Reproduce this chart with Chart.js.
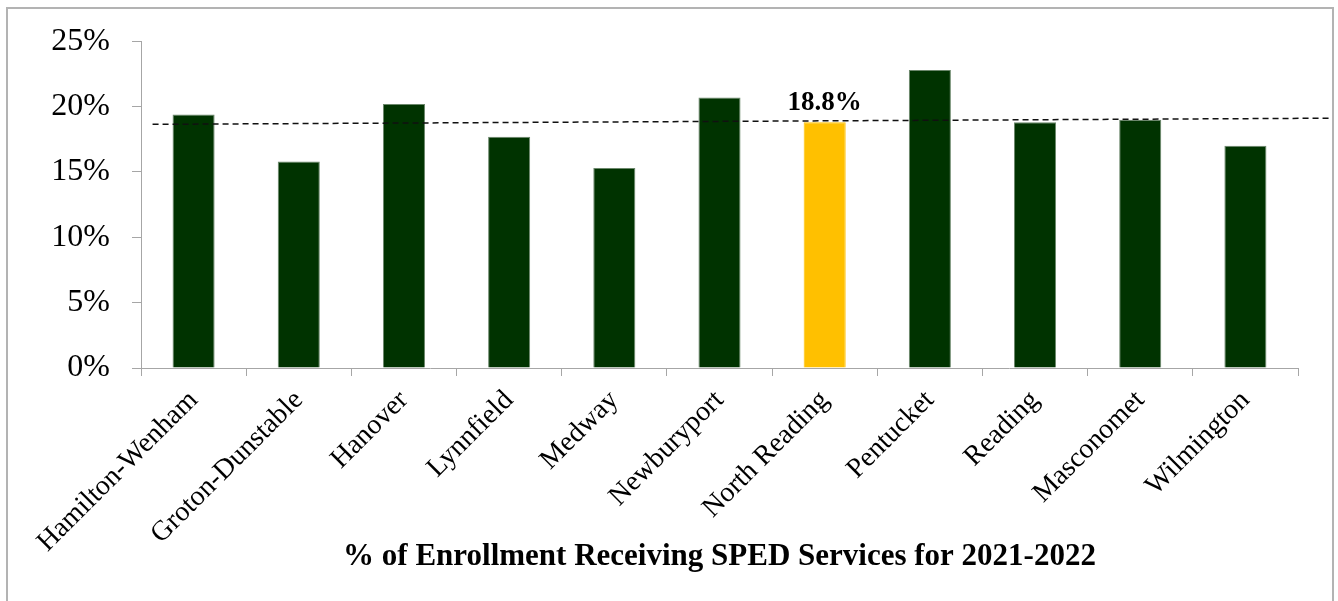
<!DOCTYPE html>
<html>
<head>
<meta charset="utf-8">
<script src="https://cdn.jsdelivr.net/npm/chart.js@4/dist/chart.umd.min.js"></script>
<style>
    body { margin: 0; background: #fff; }
    #wrap { position: relative; width: 1338px; height: 601px; }
    #frame {
        position: absolute; left: 6px; top: 7px; width: 1324px; height: 600px;
        border: 2px solid #b3b3b3; pointer-events: none;
    }
</style>
</head>
<body>
<div id="wrap">
    <canvas id="sped_chart" width="1338" height="601"></canvas>
    <div id="frame"></div>
</div>
<script>
var arrDistricts = ['Hamilton-Wenham', 'Groton-Dunstable', 'Hanover', 'Lynnfield', 'Medway',
    'Newburyport', 'North Reading', 'Pentucket', 'Reading', 'Masconomet', 'Wilmington'];
var arrSpedPct = [19.4, 15.8, 20.2, 17.7, 15.3, 20.7, 18.8, 22.8, 18.8, 19.0, 17.0];
var strHighlight = 'North Reading';
var arrYTicks = [0, 5, 10, 15, 20, 25];
// dashed trend line, ends (x in category slots)
var arrTrendX = [0.11, 11.32];
var arrTrendY = [18.64, 19.11];

var strFont = "'Liberation Serif', 'Times New Roman', serif";
var strGreen = '#003300';
var strYellow = '#ffc000';
var strAxis = '#a6a6a6';

var arrColors = arrDistricts.map(function (strName) {
    return strName === strHighlight ? strYellow : strGreen;
});
var arrBorders = arrDistricts.map(function (strName) {
    return strName === strHighlight ? strYellow : '#6b876b';
});

// value label above the highlighted bar
var highlightLabel = {
    id: 'highlightLabel',
    afterDatasetsDraw: function (chart) {
        const idx = arrDistricts.indexOf(strHighlight);
        const bar = chart.getDatasetMeta(1).data[idx];
        if (!bar) return;
        const ctx = chart.ctx;
        ctx.save();
        ctx.font = 'bold 27px ' + strFont;
        ctx.fillStyle = '#000';
        ctx.textAlign = 'center';
        ctx.textBaseline = 'bottom';
        ctx.fillText(arrSpedPct[idx].toFixed(1) + '%', bar.x, bar.y - 6);
        ctx.restore();
    }
};

var ctx = document.getElementById('sped_chart').getContext('2d');
new Chart(ctx, {
    type: 'bar',
    data: {
        labels: arrDistricts,
        datasets: [
            {
                type: 'line',
                xAxisID: 'xt',
                data: arrTrendX.map(function (x, i) { return { x: x, y: arrTrendY[i] }; }),
                borderColor: '#111',
                borderWidth: 1.5,
                borderDash: [6, 4],
                pointRadius: 0,
                clip: false,
                order: 0
            },
            {
                type: 'bar',
                data: arrSpedPct,
                backgroundColor: arrColors,
                borderColor: arrBorders,
                borderWidth: 1,
                grouped: false,
                barPercentage: 0.4,
                categoryPercentage: 1,
                order: 1
            }
        ]
    },
    options: {
        responsive: false,
        animation: false,
        layout: {
            padding: { left: 0, top: 38, right: 40, bottom: 0 }
        },
        plugins: {
            legend: { display: false },
            tooltip: { enabled: false }
        },
        scales: {
            x: {
                type: 'category',
                grid: {
                    drawOnChartArea: false,
                    color: strAxis,
                    tickLength: 8
                },
                border: { color: strAxis, width: 1 },
                ticks: {
                    color: '#000',
                    maxRotation: 45,
                    minRotation: 45,
                    padding: 8,
                    font: { family: strFont, size: 28 }
                },
                title: {
                    display: true,
                    text: '% of Enrollment Receiving SPED Services for 2021-2022',
                    color: '#000',
                    padding: { top: 0, bottom: 25 },
                    font: { family: strFont, size: 31, weight: 'bold' }
                },
                afterFit: function (scale) { scale.height = 233; }
            },
            xt: {
                type: 'linear',
                display: false,
                offset: false,
                grace: 0,
                bounds: 'ticks',
                min: 0,
                max: arrDistricts.length
            },
            y: {
                min: arrYTicks[0],
                max: arrYTicks[arrYTicks.length - 1],
                afterBuildTicks: function (scale) {
                    scale.ticks = arrYTicks.map(function (v) { return { value: v }; });
                },
                grid: {
                    drawOnChartArea: false,
                    color: strAxis,
                    tickLength: 9
                },
                border: { color: strAxis, width: 1 },
                ticks: {
                    color: '#000',
                    padding: 22,
                    font: { family: strFont, size: 32 },
                    callback: function (value) { return value + '%'; }
                },
                afterFit: function (scale) { scale.width = 141; }
            }
        }
    },
    plugins: [highlightLabel]
});
</script>
</body>
</html>
